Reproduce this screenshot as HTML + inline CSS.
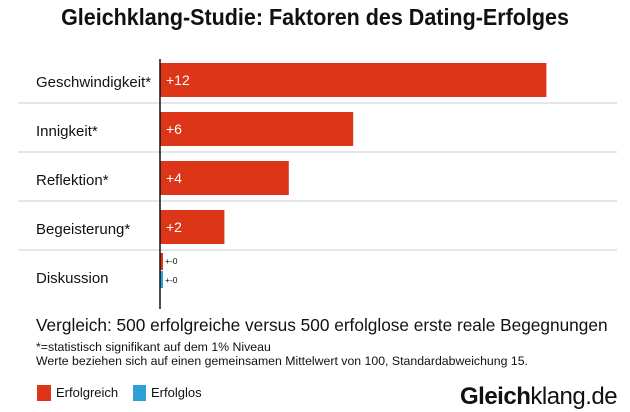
<!DOCTYPE html>
<html><head><meta charset="utf-8"><style>
body{margin:0;width:630px;height:412px;background:#fff;font-family:"Liberation Sans",sans-serif;overflow:hidden;position:relative;color:#111}
.t{position:absolute;white-space:nowrap}
</style></head><body>
<div class="t" style="left:0;width:630px;text-align:center;top:4px;font-size:23px;font-weight:bold;letter-spacing:0px;transform:scaleX(0.935)">Gleichklang-Studie: Faktoren des Dating-Erfolges</div>
<svg id="c" width="630" height="412" style="position:absolute;left:0;top:0"></svg>
<div class="t" style="left:36px;top:315px;font-size:17.25px;letter-spacing:0px">Vergleich: 500 erfolgreiche versus 500 erfolglose erste reale Begegnungen</div>
<div class="t" style="left:36px;top:340px;font-size:12.3px">*=statistisch signifikant auf dem 1% Niveau</div>
<div class="t" style="left:36px;top:354px;font-size:12.3px">Werte beziehen sich auf einen gemeinsamen Mittelwert von 100, Standardabweichung 15.</div>
<div><div style="position:absolute;left:37px;top:385px;width:14px;height:16px;background:#dd3518"></div><div class="t" style="left:56px;top:385px;font-size:13px">Erfolgreich</div></div>
<div><div style="position:absolute;left:133px;top:385px;width:13px;height:16px;background:#2f9fd8"></div><div class="t" style="left:151px;top:385px;font-size:13px">Erfolglos</div></div>
<div class="t" style="left:460px;top:383px;font-size:24px;letter-spacing:-0.5px"><b>Gleich</b>klang.de</div>
<script>
const categories=["Geschwindigkeit*","Innigkeit*","Reflektion*","Begeisterung*","Diskussion"];
const valuesErfolgreich=[12,6,4,2,0];
const labelsErfolgreich=["+12","+6","+4","+2","+-0"];
const valuesErfolglos=[null,null,null,null,0];
const labelsErfolglos=["","","","","+-0"];
const NS="http://www.w3.org/2000/svg",svg=document.getElementById('c');
const x0=160,pxPerUnit=32.2,rowTop=56,rowH=49;
const xs=v=>x0+v*pxPerUnit;
function mk(t,a){const e=document.createElementNS(NS,t);for(const k in a)e.setAttribute(k,a[k]);svg.appendChild(e);return e;}
categories.forEach((c,i)=>{
  const y=rowTop+i*rowH;
  if(i>0){const l=mk('line',{x1:18,x2:617,y1:y-2,y2:y-2,stroke:'#ddd','stroke-width':1.5});
  
  }
  const t=mk('text',{x:36,y:y+31,'font-size':15,fill:'#111'});t.textContent=c;
  
  
  const v=valuesErfolgreich[i];
  if(valuesErfolglos[i]===null){
    const w=Math.max(xs(v)-x0,3);
    const r=mk('rect',{x:x0,y:y+7,width:w,height:34,fill:'#dd3518'});
    
    
    const lt=mk('text',{x:x0+6,y:y+29,'font-size':14,fill:'#fff'});lt.textContent=labelsErfolgreich[i];
    
    
  } else {
    const r=mk('rect',{x:x0,y:y+1,width:Math.max(xs(v)-x0,3),height:17,fill:'#dd3518'});
    
    
    const r2=mk('rect',{x:x0,y:y+19,width:Math.max(xs(valuesErfolglos[i])-x0,3),height:17,fill:'#2f9fd8'});
    
    
    const a=mk('text',{x:x0+5,y:y+12,'font-size':8.5,fill:'#111'});a.textContent=labelsErfolgreich[i];
    
    
    const b=mk('text',{x:x0+5,y:y+31,'font-size':8.5,fill:'#111'});b.textContent=labelsErfolglos[i];
    
    
  }
});
const ax=mk('line',{x1:x0,x2:x0,y1:59,y2:309,stroke:'#111','stroke-width':1.5});


</script>
</body></html>
